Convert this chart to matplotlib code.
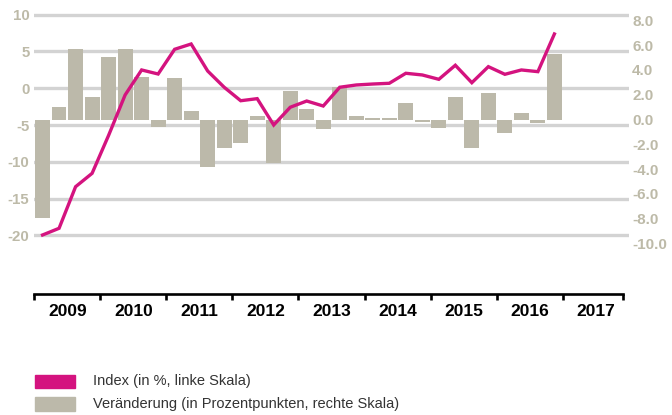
import matplotlib.pyplot as plt
import matplotlib.patches as mpatches
import numpy as np

# quarterly values 2009 Q1 .. 2016 Q4
index_pct = [-19.94, -19.03, -13.38, -11.56, -6.4, -0.91, 2.49, 1.94,
             5.30, 6.02, 2.35, 0.14, -1.69, -1.41, -4.99, -2.58,
             -1.73, -2.41, 0.14, 0.45, 0.58, 0.68, 2.04, 1.81,
             1.22, 3.13, 0.76, 2.94, 1.90, 2.49, 2.26, 7.38]
change_pp = [-7.92, 1.01, 5.69, 1.81, 5.04, 5.69, 3.43, -0.58,
             3.35, 0.69, -3.81, -2.27, -1.87, 0.31, -3.48, 2.32,
             0.87, -0.74, 2.60, 0.28, 0.12, 0.12, 1.33, -0.18,
             -0.66, 1.81, -2.27, 2.14, -1.06, 0.52, -0.26, 5.31]
years = ['2009', '2010', '2011', '2012', '2013', '2014', '2015', '2016', '2017']
left_ticks = [-20, -15, -10, -5, 0, 5, 10]
right_ticks = [8, 6, 4, 2, 0, -2, -4, -6, -8, -10]

magenta = '#d4137f'
beige = '#bcb9aa'
label_col = '#bdbaa8'
grid_col = '#d3d3d3'

plt.rcParams['font.family'] = ['Liberation Sans', 'DejaVu Sans']

W, H = 672, 415
fig = plt.figure(figsize=(W / 100, H / 100), dpi=100)
ax = fig.add_axes([34.3 / W, 1 - 294 / H, 594.4 / W, 284 / H])
ax2 = ax.twinx()

x = np.arange(len(index_pct)) + 0.5

# left axis: gridlines + labels
ax.set_xlim(0, 36)
ax.set_ylim(-27.96, 10.64)
ax.set_yticks(left_ticks)
ax.set_yticklabels([str(t) for t in left_ticks])
ax.grid(axis='y', color=grid_col, linewidth=2.4)
ax.set_axisbelow(True)
ax.tick_params(axis='y', length=0, pad=3.5, labelsize=10.8, labelcolor=label_col)
for lab in ax.get_yticklabels():
    lab.set_fontweight('bold')

# bottom year axis
for s in ['top', 'left', 'right']:
    ax.spines[s].set_visible(False)
ax.spines['bottom'].set_bounds(0, 35.65)
ax.spines['bottom'].set_linewidth(1.9)
ax.set_xticks([0, 4, 8, 12, 16, 20, 24, 28, 32, 35.65])
ax.set_xticklabels([])
ax.tick_params(axis='x', which='major', length=4, width=1.9, color='black', direction='out')
ax.set_xticks(np.arange(2, 36, 4), minor=True)
ax.set_xticklabels(years, minor=True, fontweight='bold', fontsize=12.5)
ax.tick_params(axis='x', which='minor', length=0, pad=7)

# right axis: bars
ax2.set_ylim(-14.07, 8.83)
ax2.bar(x, change_pp, width=0.9, color=beige, zorder=2)
ax2.plot(x, index_pct, color=magenta, linewidth=2.4, transform=ax.transData,
         zorder=3, solid_joinstyle='miter')
ax2.set_yticks(right_ticks)
ax2.set_yticklabels(['%.1f' % t for t in right_ticks])
ax2.tick_params(axis='y', length=0, pad=2.5, labelsize=11, labelcolor=label_col)
for lab in ax2.get_yticklabels():
    lab.set_fontweight('bold')
for s in ax2.spines.values():
    s.set_visible(False)
ax2.set_xlim(0, 36)

# legend
fig.add_artist(mpatches.Rectangle((35 / W, 1 - 388 / H), 40 / W, 13 / H,
                                  transform=fig.transFigure, color=magenta))
fig.add_artist(mpatches.Rectangle((35 / W, 1 - 411 / H), 40 / W, 14 / H,
                                  transform=fig.transFigure, color=beige))
fig.text(93 / W, 1 - 381.5 / H, 'Index (in %, linke Skala)', fontsize=10.5,
         va='center', ha='left', color='#333333')
fig.text(93 / W, 1 - 403.5 / H, 'Veränderung (in Prozentpunkten, rechte Skala)',
         fontsize=10.5, va='center', ha='left', color='#333333')

fig.savefig('out.png', dpi=100)
